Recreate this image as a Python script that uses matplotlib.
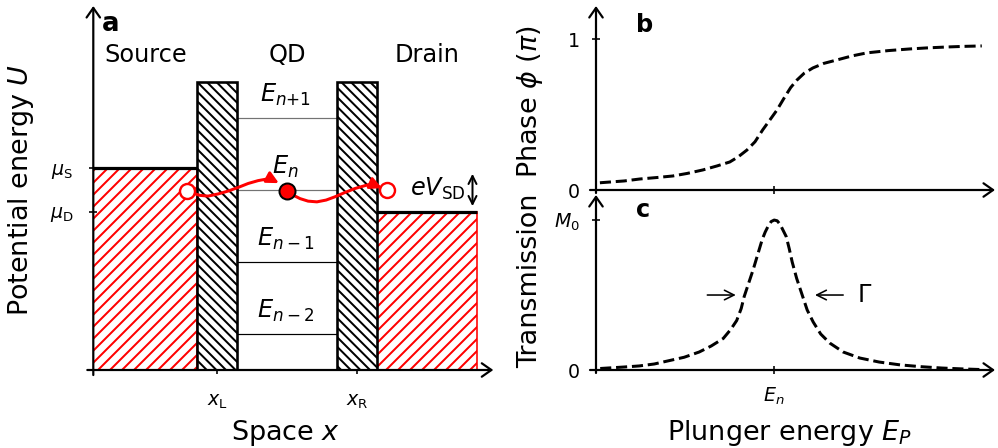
import numpy as np
import matplotlib.pyplot as plt
from matplotlib.patches import Rectangle

# ---- panel a: potential landscape of the dot (arbitrary units) ----
lead_left = [0.0, 7.1]          # source, drain
lead_width = [2.6, 2.5]
lead_top = [5.6, 4.4]           # mu_S, mu_D
lead_ticklabels = [r'$\mu_\mathrm{S}$', r'$\mu_\mathrm{D}$']
barrier_left = [2.6, 6.1]
barrier_width = [1.0, 1.0]
barrier_top = 8.0
well = [3.6, 6.1]
level_y = [1.0, 3.0, 5.0, 7.0]
level_labels = [r'$E_{n-2}$', r'$E_{n-1}$', r'$E_n$', r'$E_{\mathit{n{+}1}}$']
level_colors = ['black', 'black', '0.45', '0.45']
x_ticks_a = [3.1, 6.6]
x_ticklabels_a = [r'$x_\mathrm{L}$', r'$x_\mathrm{R}$']
region_x = [1.3, 4.85, 8.35]
region_names = ['Source', 'QD', 'Drain']

# electron hopping source -> dot -> drain
wave1_x = [2.52, 2.67, 2.87, 3.12, 3.37, 3.62, 3.87, 4.12, 4.32, 4.47, 4.64]
wave1_y = [4.90, 4.85, 4.83, 4.89, 4.97, 5.07, 5.18, 5.26, 5.30, 5.29, 5.19]
wave2_x = [4.99, 5.17, 5.37, 5.59, 5.82, 6.04, 6.29, 6.54, 6.79, 6.97, 7.22]
wave2_y = [4.86, 4.76, 4.69, 4.67, 4.72, 4.81, 4.93, 5.04, 5.12, 5.17, 5.05]
hole_x = [2.35, 7.35]
hole_y = [4.98, 5.0]
dot_x = [4.84]
dot_y = [4.98]
vsd_x = 9.48

# ---- panels b, c: phase and transmission vs plunger energy ----
phase_x = [-5.81, -5.0, -4.48, -3.9, -3.38, -2.9, -2.38, -1.9, -1.48, -1.2,
           -0.91, -0.64, -0.38, -0.14, 0.09, 0.36, 0.55, 0.76, 1.0, 1.29,
           1.65, 2.09, 2.6, 3.09, 3.8, 4.52, 5.1, 5.76, 6.3, 6.92]
phase_y = [0.048, 0.06, 0.073, 0.083, 0.093, 0.11, 0.133, 0.16, 0.186, 0.22,
           0.265, 0.32, 0.40, 0.466, 0.53, 0.62, 0.68, 0.73, 0.775, 0.81,
           0.84, 0.863, 0.89, 0.91, 0.925, 0.936, 0.943, 0.949, 0.953, 0.956]
trans_x = [-5.8, -5.0, -4.5, -4.0, -3.4, -3.0, -2.5, -2.1, -1.7, -1.45, -1.25,
           -1.1, -1.0, -0.85, -0.7, -0.55, -0.4, -0.3, -0.2, -0.1, 0.0, 0.1,
           0.2, 0.3, 0.4, 0.5, 0.6, 0.75, 0.95, 1.1, 1.3, 1.55, 1.85, 2.3,
           2.85, 3.5, 4.2, 4.9, 5.6, 6.3, 6.9]
trans_y = [0.01, 0.02, 0.027, 0.04, 0.067, 0.085, 0.12, 0.16, 0.21, 0.27, 0.33,
           0.41, 0.49, 0.58, 0.67, 0.77, 0.87, 0.92, 0.96, 0.99, 1.0, 0.995,
           0.97, 0.93, 0.89, 0.81, 0.72, 0.61, 0.49, 0.40, 0.32, 0.24, 0.18, 0.12,
           0.08, 0.053, 0.034, 0.022, 0.013, 0.007, 0.003]
gamma_left = [-2.23, -1.28]
gamma_right = [2.3, 1.36]
gamma_y = 0.5

W, H = 998, 448
fig = plt.figure(figsize=(W / 144, H / 144), dpi=144)

axis_arrow = dict(arrowstyle='->, head_length=0.4, head_width=0.28', lw=1.1,
                  color='k', shrinkA=0, shrinkB=0, mutation_scale=12)


def draw_axes(ax, x0, x1, y0, y1):
    # arrowed axes crossing at the lower left corner of the limits
    for s in ax.spines.values():
        s.set_visible(False)
    ax.patch.set_visible(False)
    xc = ax.get_xlim()[0]
    ax.annotate('', xy=(x1, 0), xytext=(x0, 0), arrowprops=axis_arrow,
                annotation_clip=False)
    ax.annotate('', xy=(xc, y1), xytext=(xc, y0), arrowprops=axis_arrow,
                annotation_clip=False)


# panel a
ax = fig.add_axes([93.3 / W, 78 / H, 400 / W, 364 / H])
ax.set_xlim(0, 10)
ax.set_ylim(0, 10.11)
draw_axes(ax, -0.15, 10, -0.14, 10.11)

for x, w, top in zip(lead_left, lead_width, lead_top):
    ax.add_patch(Rectangle((x, 0), w, top, facecolor='white', edgecolor='red',
                           lw=0.8, hatch='////', zorder=1))
    ax.plot([x, x + w], [top, top], color='k', lw=1.6, zorder=2,
            solid_capstyle='butt')
for x, w in zip(barrier_left, barrier_width):
    ax.add_patch(Rectangle((x, 0), w, barrier_top, facecolor='white',
                           edgecolor='k', lw=1.3, hatch='\\' * 5, zorder=2))
for y, lab, c in zip(level_y, level_labels, level_colors):
    ax.plot(well, [y, y], color=c, lw=0.6, zorder=1)
    ax.text(4.8, y + 0.45, lab, fontsize=12, ha='center', va='baseline')

for x, name in zip(region_x, region_names):
    ax.text(x, 8.55, name, fontsize=12, ha='center', va='baseline')
ax.text(0.21, 9.42, 'a', fontsize=13, fontweight='bold', va='baseline')

# electron path
ax.plot(wave1_x[:-1], wave1_y[:-1], color='red', lw=1.5, zorder=4)
ax.plot(wave2_x[:-1], wave2_y[:-1], color='red', lw=1.5, zorder=4)
for wx, wy in [(wave1_x, wave1_y), (wave2_x, wave2_y)]:
    ax.annotate('', xy=(wx[-1], wy[-1]), xytext=(wx[-2], wy[-2]), zorder=5,
                arrowprops=dict(arrowstyle='-|>', color='red', lw=1.5,
                                mutation_scale=12, shrinkA=0, shrinkB=0))
ax.plot(hole_x, hole_y, 'o', mfc='white', mec='red', ms=7.5, mew=1.2, zorder=6)
ax.plot(dot_x, dot_y, 'o', mfc='red', mec='k', ms=8, mew=1, zorder=6)

ax.annotate('', xy=(vsd_x, lead_top[0] - 0.15), xytext=(vsd_x, lead_top[1] + 0.15),
            arrowprops=dict(arrowstyle='<->', lw=1.0, color='k', shrinkA=0,
                            shrinkB=0, mutation_scale=10))
ax.text(8.62, 4.83, r'$eV_\mathrm{SD}$', fontsize=12, ha='center', va='baseline')

ax.set_xticks(x_ticks_a, x_ticklabels_a)
ax.set_yticks(lead_top, lead_ticklabels)
ax.tick_params(axis='x', direction='inout', length=4, width=0.8,
               labelsize=9.5, pad=9)
ax.tick_params(axis='y', direction='inout', length=4, width=0.8,
               labelsize=9.5, pad=8)

# panel b
xmin, xmax = -5.94, 7.36
axb = fig.add_axes([596 / W, 258 / H, 399 / W, 184 / H])
axb.set_xlim(xmin, xmax)
axb.set_ylim(0, 1.221)
draw_axes(axb, -6.14, xmax, -0.02, 1.221)
axb.plot(phase_x, phase_y, 'k--', lw=1.5)
axb.set_xticks([0], [''])
axb.set_yticks([0, 1], ['0', '1'])
axb.tick_params(direction='inout', length=4, width=0.8, labelsize=9.5, pad=6)
axb.text(-4.6, 1.047, 'b', fontsize=12, fontweight='bold', va='baseline')

# panel c
axc = fig.add_axes([596 / W, 78 / H, 399 / W, 175 / H])
axc.set_xlim(xmin, xmax)
axc.set_ylim(0, 1.167)
draw_axes(axc, -6.14, xmax, -0.02, 1.167)
axc.plot(trans_x, trans_y, 'k--', lw=1.5)
axc.set_xticks([0], [r'$E_n$'])
axc.set_yticks([0, 1], ['0', r'$M_0$'])
axc.tick_params(direction='inout', length=4, width=0.8, labelsize=9.5, pad=6)
axc.text(-4.6, 1.02, 'c', fontsize=12, fontweight='bold', va='baseline')
gamma_arrow = dict(arrowstyle='->', lw=0.8, color='k', shrinkA=0, shrinkB=0,
                   mutation_scale=12)
axc.annotate('', xy=(gamma_left[1], gamma_y), xytext=(gamma_left[0], gamma_y),
             arrowprops=gamma_arrow)
axc.annotate('', xy=(gamma_right[1], gamma_y), xytext=(gamma_right[0], gamma_y),
             arrowprops=gamma_arrow)
axc.text(2.79, 0.455, 'Γ', fontsize=12, va='baseline')

# axis labels
fig.text(21.5 / W, 1 - 190 / H, r'Potential energy $U$', fontsize=13.5,
         rotation=90, ha='center', va='center')
fig.text(285.7 / W, 1 - 440 / H, r'Space $x$', fontsize=13.5,
         ha='center', va='baseline')
fig.text(530 / W, 1 - 102 / H, r'Phase $\phi$ ($\pi$)', fontsize=13.5,
         rotation=90, ha='center', va='center')
fig.text(530 / W, 1 - 281 / H, 'Transmission', fontsize=13.5,
         rotation=90, ha='center', va='center')
fig.text(789 / W, 1 - 440 / H, r'Plunger energy $E_P$', fontsize=13.5,
         ha='center', va='baseline')

fig.savefig('out.png', dpi=144)
